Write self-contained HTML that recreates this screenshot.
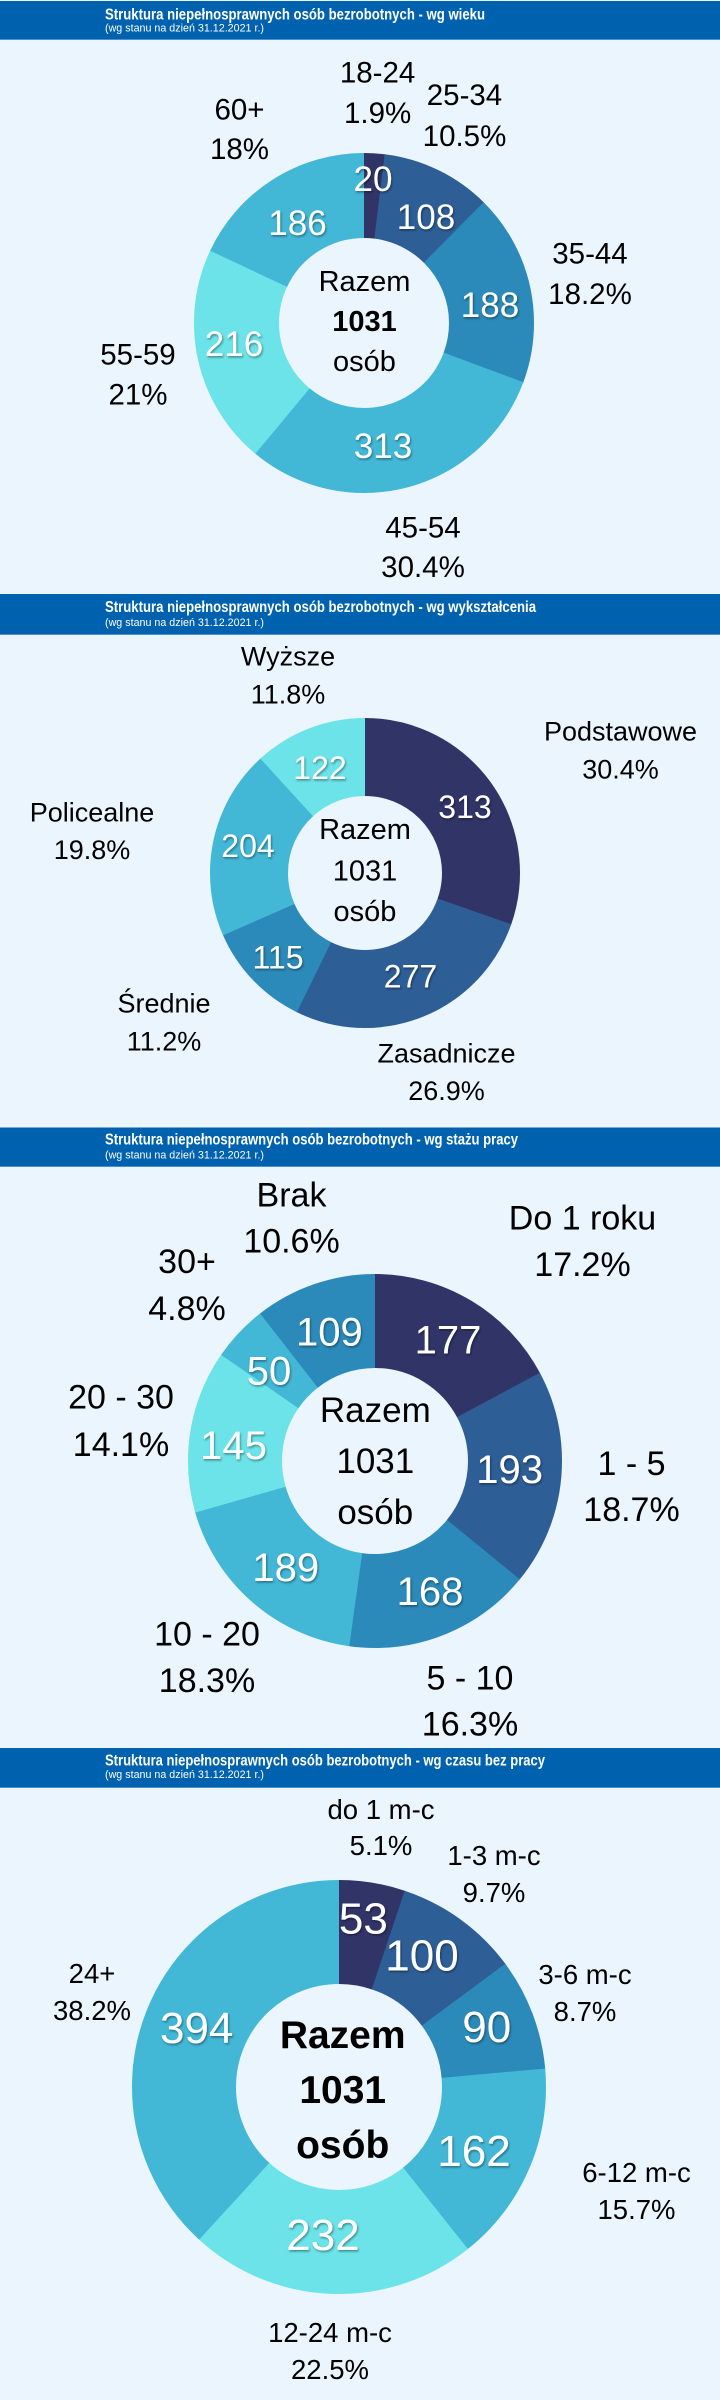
<!DOCTYPE html>
<html><head><meta charset="utf-8"><style>
html,body{margin:0;padding:0;background:#eaf5fd;}
svg{display:block;}
text{font-family:"Liberation Sans",sans-serif;}
.t{fill:#fff;font-weight:bold;font-size:16px;}
.s{fill:#fff;font-size:11px;}
.lb{fill:#000;text-anchor:middle;}
.nm{fill:#fff;text-anchor:middle;filter:url(#sh);}
.ct{fill:#000;text-anchor:middle;}
</style></head><body>
<svg width="720" height="2400" viewBox="0 0 720 2400" xmlns="http://www.w3.org/2000/svg">
<defs><filter id="sh" x="-20%" y="-20%" width="140%" height="140%"><feDropShadow dx="1" dy="1.5" stdDeviation="1" flood-color="#000" flood-opacity="0.4"/></filter></defs>
<rect x="0" y="0" width="720" height="2400" fill="#eaf5fd"/>

<!-- Panel 1 header -->
<rect x="0" y="1" width="720" height="38" fill="#0062ae"/>
<rect x="0" y="39" width="720" height="1" fill="#4b8fcf"/>
<text class="t" x="105" y="19.5" textLength="380" lengthAdjust="spacingAndGlyphs">Struktura niepełnosprawnych osób bezrobotnych - wg wieku</text>
<text class="s" x="105" y="31.5" textLength="159" lengthAdjust="spacingAndGlyphs">(wg stanu na dzień 31.12.2021 r.)</text>

<g transform="rotate(-90 364 323)" fill="none" stroke-width="85">
<circle cx="364" cy="323" r="127.5" stroke="#313467" stroke-dasharray="16.1 900" stroke-dashoffset="0"/>
<circle cx="364" cy="323" r="127.5" stroke="#2e5e96" stroke-dasharray="84.5 900" stroke-dashoffset="-15.54"/>
<circle cx="364" cy="323" r="127.5" stroke="#2b8ab9" stroke-dasharray="146.7 900" stroke-dashoffset="-99.458"/>
<circle cx="364" cy="323" r="127.5" stroke="#42b7d6" stroke-dasharray="243.8 900" stroke-dashoffset="-245.538"/>
<circle cx="364" cy="323" r="127.5" stroke="#6be3e8" stroke-dasharray="168.4 900" stroke-dashoffset="-488.745"/>
<circle cx="364" cy="323" r="127.5" stroke="#42b7d6" stroke-dasharray="144.526 900" stroke-dashoffset="-656.581"/>
</g>
<g font-size="35">
<text class="nm" x="373" y="191">20</text>
<text class="nm" x="426" y="229">108</text>
<text class="nm" x="490" y="317">188</text>
<text class="nm" x="383" y="458">313</text>
<text class="nm" x="234" y="356">216</text>
<text class="nm" x="297.5" y="235">186</text>
</g>
<g font-size="29.5">
<text class="lb" x="377.6" y="82.3">18-24</text>
<text class="lb" x="377.6" y="123.2">1.9%</text>
<text class="lb" x="464.5" y="105.2">25-34</text>
<text class="lb" x="464.5" y="146.2">10.5%</text>
<text class="lb" x="590" y="263.3">35-44</text>
<text class="lb" x="590" y="304.2">18.2%</text>
<text class="lb" x="423" y="537.7">45-54</text>
<text class="lb" x="423" y="577">30.4%</text>
<text class="lb" x="138" y="364.7">55-59</text>
<text class="lb" x="138" y="404.5">21%</text>
<text class="lb" x="239.5" y="119.4">60+</text>
<text class="lb" x="239.5" y="158.8">18%</text>
</g>
<g font-size="29">
<text class="ct" x="364.5" y="291">Razem</text>
<text class="ct" x="364.5" y="331" font-weight="bold">1031</text>
<text class="ct" x="364.5" y="371">osób</text>
</g>

<!-- Panel 2 header -->
<rect x="0" y="594" width="720" height="40" fill="#0062ae"/>
<rect x="0" y="634" width="720" height="1" fill="#4b8fcf"/>
<text class="t" x="105" y="612" textLength="431" lengthAdjust="spacingAndGlyphs">Struktura niepełnosprawnych osób bezrobotnych - wg wykształcenia</text>
<text class="s" x="105" y="626" textLength="159" lengthAdjust="spacingAndGlyphs">(wg stanu na dzień 31.12.2021 r.)</text>

<g transform="rotate(-90 365 873)" fill="none" stroke-width="78">
<circle cx="365" cy="873" r="116" stroke="#313467" stroke-dasharray="221.9 900" stroke-dashoffset="0"/>
<circle cx="365" cy="873" r="116" stroke="#2e5e96" stroke-dasharray="196.4 900" stroke-dashoffset="-221.271"/>
<circle cx="365" cy="873" r="116" stroke="#2b8ab9" stroke-dasharray="81.9 900" stroke-dashoffset="-417.092"/>
<circle cx="365" cy="873" r="116" stroke="#42b7d6" stroke-dasharray="144.8 900" stroke-dashoffset="-498.39"/>
<circle cx="365" cy="873" r="116" stroke="#6be3e8" stroke-dasharray="86.246 900" stroke-dashoffset="-642.605"/>
</g>
<g font-size="32">
<text class="nm" x="465" y="818">313</text>
<text class="nm" x="320" y="779">122</text>
<text class="nm" x="248" y="857">204</text>
<text class="nm" x="278" y="968.6">115</text>
<text class="nm" x="410.5" y="987.5">277</text>
</g>
<g font-size="27">
<text class="lb" x="288" y="665.7">Wyższe</text>
<text class="lb" x="288" y="703.6">11.8%</text>
<text class="lb" x="620.5" y="740.7">Podstawowe</text>
<text class="lb" x="620.5" y="778.6">30.4%</text>
<text class="lb" x="92" y="821.4">Policealne</text>
<text class="lb" x="92" y="859">19.8%</text>
<text class="lb" x="164" y="1012.5">Średnie</text>
<text class="lb" x="164" y="1050.7">11.2%</text>
<text class="lb" x="446.5" y="1062.5">Zasadnicze</text>
<text class="lb" x="446.5" y="1100">26.9%</text>
</g>
<g font-size="29">
<text class="ct" x="365" y="839">Razem</text>
<text class="ct" x="365" y="880.4">1031</text>
<text class="ct" x="365" y="921">osób</text>
</g>

<!-- Panel 3 header -->
<rect x="0" y="1127.5" width="720" height="38.5" fill="#0062ae"/>
<rect x="0" y="1166" width="720" height="1" fill="#4b8fcf"/>
<text class="t" x="105" y="1144.5" textLength="413" lengthAdjust="spacingAndGlyphs">Struktura niepełnosprawnych osób bezrobotnych - wg stażu pracy</text>
<text class="s" x="105" y="1158.5" textLength="159" lengthAdjust="spacingAndGlyphs">(wg stanu na dzień 31.12.2021 r.)</text>

<g transform="rotate(-90 375 1461)" fill="none" stroke-width="94">
<circle cx="375" cy="1461" r="140" stroke="#313467" stroke-dasharray="151.6 1000" stroke-dashoffset="0"/>
<circle cx="375" cy="1461" r="140" stroke="#2e5e96" stroke-dasharray="165.3 1000" stroke-dashoffset="-151.016"/>
<circle cx="375" cy="1461" r="140" stroke="#2b8ab9" stroke-dasharray="143.9 1000" stroke-dashoffset="-315.683"/>
<circle cx="375" cy="1461" r="140" stroke="#42b7d6" stroke-dasharray="161.9 1000" stroke-dashoffset="-459.02"/>
<circle cx="375" cy="1461" r="140" stroke="#6be3e8" stroke-dasharray="124.3 1000" stroke-dashoffset="-620.274"/>
<circle cx="375" cy="1461" r="140" stroke="#42b7d6" stroke-dasharray="43.3 1000" stroke-dashoffset="-743.988"/>
<circle cx="375" cy="1461" r="140" stroke="#2b8ab9" stroke-dasharray="92.998 1000" stroke-dashoffset="-786.648"/>
</g>
<g font-size="40">
<text class="nm" x="448" y="1353.5">177</text>
<text class="nm" x="509.6" y="1483">193</text>
<text class="nm" x="430" y="1605">168</text>
<text class="nm" x="285.8" y="1581">189</text>
<text class="nm" x="233.5" y="1458.8">145</text>
<text class="nm" x="269" y="1384.5">50</text>
<text class="nm" x="329.4" y="1345.3">109</text>
</g>
<g font-size="34">
<text class="lb" x="291.5" y="1206.5">Brak</text>
<text class="lb" x="291.5" y="1252.7">10.6%</text>
<text class="lb" x="582.5" y="1229.4">Do 1 roku</text>
<text class="lb" x="582.5" y="1276">17.2%</text>
<text class="lb" x="187" y="1273">30+</text>
<text class="lb" x="187" y="1320">4.8%</text>
<text class="lb" x="121" y="1408.6">20 - 30</text>
<text class="lb" x="121" y="1456">14.1%</text>
<text class="lb" x="631.5" y="1475">1 - 5</text>
<text class="lb" x="631.5" y="1521">18.7%</text>
<text class="lb" x="207" y="1645.3">10 - 20</text>
<text class="lb" x="207" y="1692">18.3%</text>
<text class="lb" x="470" y="1689.4">5 - 10</text>
<text class="lb" x="470" y="1735.5">16.3%</text>
</g>
<g font-size="35">
<text class="ct" x="375.3" y="1422">Razem</text>
<text class="ct" x="375.3" y="1473">1031</text>
<text class="ct" x="375.3" y="1524">osób</text>
</g>

<!-- Panel 4 header -->
<rect x="0" y="1748" width="720" height="39" fill="#0062ae"/>
<rect x="0" y="1787" width="720" height="1" fill="#4b8fcf"/>
<text class="t" x="105" y="1765.5" textLength="440" lengthAdjust="spacingAndGlyphs">Struktura niepełnosprawnych osób bezrobotnych - wg czasu bez pracy</text>
<text class="s" x="105" y="1778" textLength="159" lengthAdjust="spacingAndGlyphs">(wg stanu na dzień 31.12.2021 r.)</text>

<g transform="rotate(-90 339 2087)" fill="none" stroke-width="104">
<circle cx="339" cy="2087" r="155" stroke="#313467" stroke-dasharray="50.7 1100" stroke-dashoffset="0"/>
<circle cx="339" cy="2087" r="155" stroke="#2e5e96" stroke-dasharray="95.1 1100" stroke-dashoffset="-50.064"/>
<circle cx="339" cy="2087" r="155" stroke="#2b8ab9" stroke-dasharray="85.6 1100" stroke-dashoffset="-144.525"/>
<circle cx="339" cy="2087" r="155" stroke="#42b7d6" stroke-dasharray="153.6 1100" stroke-dashoffset="-229.54"/>
<circle cx="339" cy="2087" r="155" stroke="#6be3e8" stroke-dasharray="219.8 1100" stroke-dashoffset="-382.567"/>
<circle cx="339" cy="2087" r="155" stroke="#42b7d6" stroke-dasharray="372.177 1100" stroke-dashoffset="-601.717"/>
</g>
<g font-size="44">
<text class="nm" x="363.4" y="1933.6">53</text>
<text class="nm" x="422" y="1970.6">100</text>
<text class="nm" x="486.7" y="2042">90</text>
<text class="nm" x="474" y="2166">162</text>
<text class="nm" x="323" y="2250">232</text>
<text class="nm" x="196.7" y="2043">394</text>
</g>
<g font-size="27.5">
<text class="lb" x="381" y="1819">do 1 m-c</text>
<text class="lb" x="381" y="1855">5.1%</text>
<text class="lb" x="494" y="1865">1-3 m-c</text>
<text class="lb" x="494" y="1902">9.7%</text>
<text class="lb" x="585" y="1984">3-6 m-c</text>
<text class="lb" x="585" y="2021">8.7%</text>
<text class="lb" x="636.5" y="2182">6-12 m-c</text>
<text class="lb" x="636.5" y="2219">15.7%</text>
<text class="lb" x="330" y="2341.8">12-24 m-c</text>
<text class="lb" x="330" y="2378.9">22.5%</text>
<text class="lb" x="92" y="1982.8">24+</text>
<text class="lb" x="92" y="2019.9">38.2%</text>
</g>
<g font-size="39" font-weight="bold">
<text class="ct" x="342.7" y="2048">Razem</text>
<text class="ct" x="342.7" y="2102.8">1031</text>
<text class="ct" x="342.7" y="2158">osób</text>
</g>
</svg>
</body></html>
